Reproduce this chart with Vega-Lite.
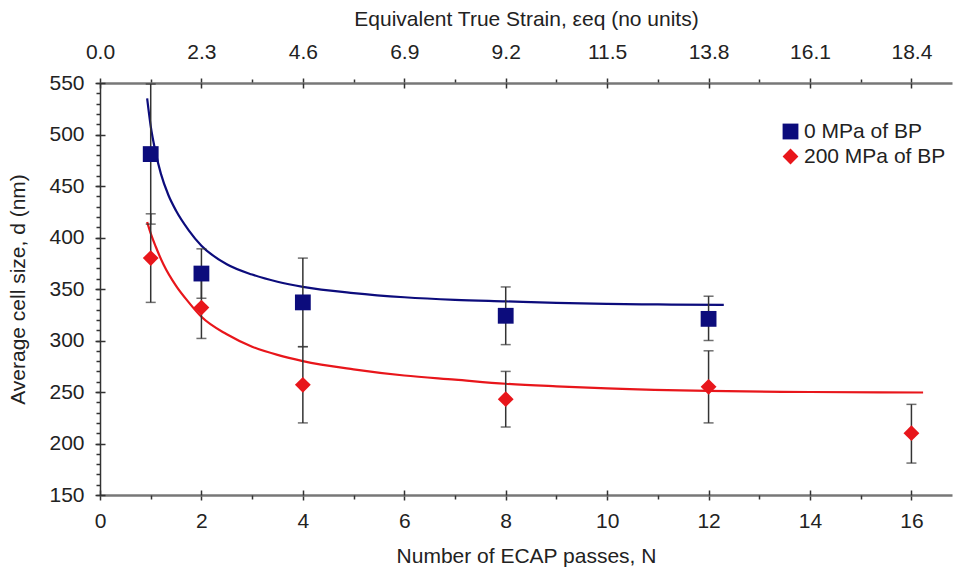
{
  "$schema": "https://vega.github.io/schema/vega-lite/v6.json",
  "autosize": {"type": "none"},
  "padding": {"left": 100, "top": 83, "right": 1, "bottom": 78},
  "width": 852,
  "height": 412,
  "background": "white",
  "config": {
    "view": {"stroke": null},
    "font": "Liberation Sans",
    "axis": {
      "labelFont": "Liberation Sans",
      "titleFont": "Liberation Sans",
      "labelFontSize": 21,
      "titleFontSize": 21,
      "titleFontWeight": "normal",
      "labelColor": "#222",
      "titleColor": "#222",
      "domainColor": "#555",
      "tickColor": "#333",
      "tickWidth": 1.5,
      "grid": false,
      "labelFlush": false,
      "labelOverlap": false
    },
    "legend": {
      "labelFont": "Liberation Sans",
      "labelFontSize": 21,
      "labelColor": "#222",
      "symbolStrokeWidth": 0,
      "symbolSize": 250,
      "rowPadding": 3,
      "labelOffset": 3
    }
  },
  "datasets": {
    "pts": [
      {"N": 1, "d": 481, "lo": 413, "hi": 549, "s": "0 MPa of BP"},
      {"N": 2, "d": 365, "lo": 341, "hi": 389, "s": "0 MPa of BP"},
      {"N": 4, "d": 337, "lo": 294, "hi": 380, "s": "0 MPa of BP"},
      {"N": 8, "d": 324, "lo": 296, "hi": 352, "s": "0 MPa of BP"},
      {"N": 12, "d": 321, "lo": 300, "hi": 343, "s": "0 MPa of BP"},
      {"N": 1, "d": 380, "lo": 337, "hi": 423, "s": "200 MPa of BP"},
      {"N": 2, "d": 332, "lo": 302, "hi": 362, "s": "200 MPa of BP"},
      {"N": 4, "d": 257, "lo": 220, "hi": 294, "s": "200 MPa of BP"},
      {"N": 8, "d": 243, "lo": 216, "hi": 270, "s": "200 MPa of BP"},
      {"N": 12, "d": 255, "lo": 220, "hi": 290, "s": "200 MPa of BP"},
      {"N": 16, "d": 210, "lo": 181, "hi": 238, "s": "200 MPa of BP"}
    ],
    "fit": [
      {"N": 0.93, "d": 535, "s": "0 MPa of BP"},
      {"N": 1.0, "d": 508, "s": "0 MPa of BP"},
      {"N": 1.1, "d": 482, "s": "0 MPa of BP"},
      {"N": 1.2, "d": 462, "s": "0 MPa of BP"},
      {"N": 1.35, "d": 441, "s": "0 MPa of BP"},
      {"N": 1.5, "d": 426, "s": "0 MPa of BP"},
      {"N": 1.75, "d": 407, "s": "0 MPa of BP"},
      {"N": 2.0, "d": 392, "s": "0 MPa of BP"},
      {"N": 2.5, "d": 374, "s": "0 MPa of BP"},
      {"N": 3.0, "d": 364, "s": "0 MPa of BP"},
      {"N": 3.5, "d": 357, "s": "0 MPa of BP"},
      {"N": 4.0, "d": 352, "s": "0 MPa of BP"},
      {"N": 5.0, "d": 346, "s": "0 MPa of BP"},
      {"N": 6.0, "d": 342, "s": "0 MPa of BP"},
      {"N": 7.0, "d": 339.5, "s": "0 MPa of BP"},
      {"N": 8.0, "d": 338, "s": "0 MPa of BP"},
      {"N": 9.0, "d": 336.5, "s": "0 MPa of BP"},
      {"N": 10.0, "d": 335.6, "s": "0 MPa of BP"},
      {"N": 11.0, "d": 335, "s": "0 MPa of BP"},
      {"N": 12.3, "d": 334.5, "s": "0 MPa of BP"},
      {"N": 0.93, "d": 415, "s": "200 MPa of BP"},
      {"N": 1.0, "d": 404, "s": "200 MPa of BP"},
      {"N": 1.1, "d": 391, "s": "200 MPa of BP"},
      {"N": 1.25, "d": 374, "s": "200 MPa of BP"},
      {"N": 1.5, "d": 353, "s": "200 MPa of BP"},
      {"N": 1.75, "d": 337, "s": "200 MPa of BP"},
      {"N": 2.0, "d": 323, "s": "200 MPa of BP"},
      {"N": 2.5, "d": 306, "s": "200 MPa of BP"},
      {"N": 3.0, "d": 294, "s": "200 MPa of BP"},
      {"N": 3.5, "d": 286, "s": "200 MPa of BP"},
      {"N": 4.0, "d": 280, "s": "200 MPa of BP"},
      {"N": 5.0, "d": 272, "s": "200 MPa of BP"},
      {"N": 6.0, "d": 266, "s": "200 MPa of BP"},
      {"N": 7.0, "d": 262, "s": "200 MPa of BP"},
      {"N": 8.0, "d": 258, "s": "200 MPa of BP"},
      {"N": 9.0, "d": 255.5, "s": "200 MPa of BP"},
      {"N": 10.0, "d": 253.5, "s": "200 MPa of BP"},
      {"N": 12.0, "d": 251, "s": "200 MPa of BP"},
      {"N": 14.0, "d": 250, "s": "200 MPa of BP"},
      {"N": 16.23, "d": 249.5, "s": "200 MPa of BP"}
    ]
  },
  "resolve": {"axis": {"x": "independent", "y": "independent"}},
  "layer": [
    {
      "data": {"name": "fit"},
      "transform": [{"filter": {"field": "s", "equal": "0 MPa of BP"}}],
      "mark": {"type": "line", "interpolate": "monotone", "strokeWidth": 2.2, "clip": true, "color": "#0c0c7c"},
      "encoding": {
        "x": {"field": "N", "type": "quantitative", "scale": {"domain": [0, 16.8], "nice": false},
          "axis": {"orient": "bottom", "values": [0, 2, 4, 6, 8, 10, 12, 14, 16], "title": "Number of ECAP passes, N",
            "tickSize": 5, "labelPadding": 10, "titlePadding": 14, "domainWidth": 2.5, "domainColor": "#777"}},
        "y": {"field": "d", "type": "quantitative", "scale": {"domain": [150, 550], "nice": false},
          "axis": {"orient": "left", "values": [150, 200, 250, 300, 350, 400, 450, 500, 550], "title": "Average cell size, d (nm)",
            "tickSize": 5, "labelPadding": 11, "titlePadding": 20, "domainWidth": 1.5, "domainColor": "#333"}}
      }
    },
    {
      "data": {"name": "fit"},
      "transform": [{"filter": {"field": "s", "equal": "200 MPa of BP"}}],
      "mark": {"type": "line", "interpolate": "monotone", "strokeWidth": 2.2, "clip": true, "color": "#e8161b"},
      "encoding": {
        "x": {"field": "N", "type": "quantitative", "scale": {"domain": [0, 16.8], "nice": false},
          "axis": {"orient": "top", "values": [1, 3, 5, 7, 9, 11, 13, 15], "labels": false, "domain": false, "title": null, "tickSize": 4}},
        "y": {"field": "d", "type": "quantitative", "scale": {"domain": [150, 550], "nice": false}, "axis": null}
      }
    },
    {
      "data": {"name": "pts"},
      "mark": {"type": "rule", "color": "#333", "strokeWidth": 1.5, "clip": true},
      "encoding": {
        "x": {"field": "N", "type": "quantitative", "scale": {"domain": [0, 16.8], "nice": false},
          "axis": {"orient": "top", "values": [0, 2, 4, 6, 8, 10, 12, 14, 16], "labelExpr": "format(datum.value * 1.15, '.1f')",
            "title": "Equivalent True Strain, εeq (no units)", "tickSize": 5, "labelPadding": 16, "titlePadding": 12, "domainWidth": 2.5, "domainColor": "#777"}},
        "y": {"field": "lo", "type": "quantitative", "scale": {"domain": [150, 550], "nice": false},
          "axis": {"orient": "left", "values": [150, 200, 250, 300, 350, 400, 450, 500, 550], "labels": false, "domain": false, "title": null, "tickSize": -5}},
        "y2": {"field": "hi"}
      }
    },
    {
      "data": {"name": "pts"},
      "transform": [{"fold": ["lo", "hi"], "as": ["k", "v"]}],
      "mark": {"type": "tick", "orient": "horizontal", "color": "#333", "size": 10, "thickness": 1.5, "clip": true},
      "encoding": {
        "x": {"field": "N", "type": "quantitative", "scale": {"domain": [0, 16.8], "nice": false},
          "axis": {"orient": "bottom", "values": [0, 2, 4, 6, 8, 10, 12, 14, 16], "labels": false, "domain": false, "title": null, "tickSize": -5}},
        "y": {"field": "v", "type": "quantitative", "scale": {"domain": [150, 550], "nice": false},
          "axis": {"orient": "left", "values": [150,160,170,180,190,200,210,220,230,240,250,260,270,280,290,300,310,320,330,340,350,360,370,380,390,400,410,420,430,440,450,460,470,480,490,500,510,520,530,540,550],
            "labels": false, "domain": false, "title": null, "tickSize": 4}}
      }
    },
    {
      "data": {"name": "pts"},
      "mark": {"type": "point", "filled": true, "opacity": 1, "size": 250},
      "encoding": {
        "x": {"field": "N", "type": "quantitative", "scale": {"domain": [0, 16.8], "nice": false},
          "axis": {"orient": "top", "values": [0, 2, 4, 6, 8, 10, 12, 14, 16], "labels": false, "domain": false, "title": null, "tickSize": -5}},
        "y": {"field": "d", "type": "quantitative", "scale": {"domain": [150, 550], "nice": false}, "axis": null},
        "color": {"field": "s", "type": "nominal", "scale": {"domain": ["0 MPa of BP", "200 MPa of BP"], "range": ["#0c0c7c", "#e8161b"]},
          "legend": {"orient": "none", "legendX": 680, "legendY": 38, "title": null}},
        "shape": {"field": "s", "type": "nominal", "scale": {"domain": ["0 MPa of BP", "200 MPa of BP"], "range": ["square", "diamond"]},
          "legend": {"orient": "none", "legendX": 680, "legendY": 38, "title": null}}
      }
    },
    {
      "data": {"name": "pts"},
      "mark": {"type": "point", "opacity": 0},
      "encoding": {
        "x": {"field": "N", "type": "quantitative", "scale": {"domain": [0, 16.8], "nice": false},
          "axis": {"orient": "bottom", "values": [1, 3, 5, 7, 9, 11, 13, 15], "labels": false, "domain": false, "title": null, "tickSize": 4}},
        "y": {"field": "d", "type": "quantitative", "scale": {"domain": [150, 550], "nice": false}, "axis": null}
      }
    }
  ]
}
